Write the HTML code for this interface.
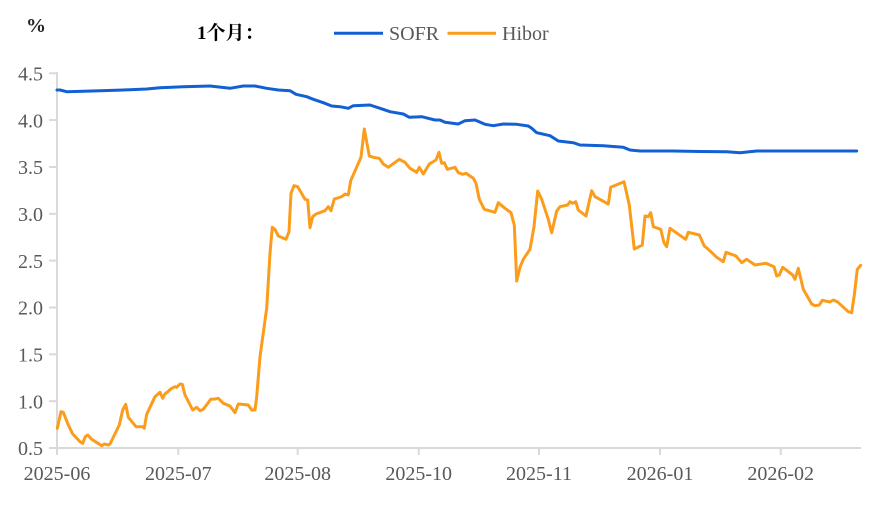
<!DOCTYPE html>
<html><head><meta charset="utf-8"><style>
html,body{margin:0;padding:0;background:#fff;}
svg{display:block;}
svg text{font-family:"Liberation Serif","Times New Roman","Noto Serif CJK SC",serif;fill:#595959;}
</style></head><body>
<svg width="889" height="506" viewBox="0 0 889 506" xmlns="http://www.w3.org/2000/svg">
<g stroke="#d9d9d9" stroke-width="2" fill="none">
<line x1="57" y1="72" x2="57" y2="449"/>
<line x1="56" y1="448" x2="861" y2="448"/>
<line x1="49" y1="73.3" x2="57" y2="73.3"/>
<line x1="49" y1="120.1" x2="57" y2="120.1"/>
<line x1="49" y1="167" x2="57" y2="167"/>
<line x1="49" y1="213.8" x2="57" y2="213.8"/>
<line x1="49" y1="260.6" x2="57" y2="260.6"/>
<line x1="49" y1="307.5" x2="57" y2="307.5"/>
<line x1="49" y1="354.3" x2="57" y2="354.3"/>
<line x1="49" y1="401.2" x2="57" y2="401.2"/>
<line x1="49" y1="448" x2="57" y2="448"/>
<line x1="57" y1="448" x2="57" y2="455"/>
<line x1="178.3" y1="448" x2="178.3" y2="455"/>
<line x1="297.7" y1="448" x2="297.7" y2="455"/>
<line x1="418.7" y1="448" x2="418.7" y2="455"/>
<line x1="539" y1="448" x2="539" y2="455"/>
<line x1="660" y1="448" x2="660" y2="455"/>
<line x1="780.7" y1="448" x2="780.7" y2="455"/>
</g>
<g font-size="20" text-anchor="end" font-family="Liberation Serif, serif" fill="#595959">
<text x="43" y="80.5">4.5</text>
<text x="43" y="127.3">4.0</text>
<text x="43" y="174.2">3.5</text>
<text x="43" y="221">3.0</text>
<text x="43" y="267.8">2.5</text>
<text x="43" y="314.7">2.0</text>
<text x="43" y="361.5">1.5</text>
<text x="43" y="408.4">1.0</text>
<text x="43" y="455.2">0.5</text>
</g>
<g font-size="20" text-anchor="middle" font-family="Liberation Serif, serif" fill="#595959">
<text x="57" y="480">2025-06</text>
<text x="178.3" y="480">2025-07</text>
<text x="297.7" y="480">2025-08</text>
<text x="418.7" y="480">2025-10</text>
<text x="539" y="480">2025-11</text>
<text x="660" y="480">2026-01</text>
<text x="780.7" y="480">2026-02</text>
</g>
<text x="26" y="32" font-size="20" font-weight="bold" font-family="Liberation Serif, serif" style="fill:#222;">%</text>
<text x="197" y="39" font-size="19" font-weight="bold" style="fill:#000;font-family:'Liberation Serif','Noto Serif CJK SC','Noto Sans CJK SC',serif;">1个月：</text>
<line x1="334" y1="33.3" x2="383" y2="33.3" stroke="#1260d3" stroke-width="3"/>
<text x="389" y="40" font-size="20" font-family="Liberation Serif, serif">SOFR</text>
<line x1="447.5" y1="33.3" x2="496" y2="33.3" stroke="#fb9c1b" stroke-width="3"/>
<text x="502" y="40" font-size="20" font-family="Liberation Serif, serif">Hibor</text>
<polyline fill="none" stroke="#1260d3" stroke-width="3" stroke-linejoin="round" stroke-linecap="round" points="
57,90 60,90 66.7,91.7 100,90.7 123.3,90 146.7,89 160,87.7 183.3,86.7 210,86 230,88.3 243.3,86 255,86 266.7,88.3 278.3,90 290,90.7 296,94.3 306.7,96.7 313.3,99.3 323.3,102.7 331.7,106 340,106.7 348.3,108.3 353.3,105.7 370,105 380,108.3 390,111.7 403.3,114 409.3,117.3 421.7,116.7 435,120 440,120 445,122.3 458.3,124 465,120.7 475,120 485,124.3 493.3,125.7 503.3,124 516.7,124.3 528.3,126 531.7,128.3 536.7,132.7 550,135.7 558.3,141 573.3,142.7 580,145 603.3,145.7 623.3,147.3 630,150 640,151 673.3,151 700,151.5 726.7,151.7 740,152.7 756.7,151 790,151 830,151 856.7,151"/>
<polyline fill="none" stroke="#fb9c1b" stroke-width="3" stroke-linejoin="round" stroke-linecap="round" points="
57.3,428.3 61,411.7 63.3,412.3 68.3,425 72.7,434 80,441.7 82.7,443.3 85.3,436.7 87.7,435 91.7,439.3 101.7,445.7 104.3,444 108.3,445 110,444 119.3,425 122.7,410 125.7,404.3 128.3,417.3 136,426.7 142.7,426.7 144.3,428.3 146.7,414.3 155,396.7 160,392.3 162.7,398.3 165,394 171.7,388.3 175,386.7 176.7,387.3 180,384 182.3,384.3 185,395 192.7,410 196.7,407.3 200,410.7 203.3,409.3 210.7,399.3 215,399 218.3,398.3 223.3,403.3 230,406 235,412.7 238.3,404 248.3,405 251.7,410 255,410 256.7,396.7 260,356.7 266.7,308.3 270,253.3 272.3,227.3 275,229.3 278.3,236 286,239.3 289,231.7 291,193.3 294,185.7 297.7,186.7 305,199.3 307.7,200 310,227.7 312.7,216.7 316,214 325,210.7 328.3,206.7 331,210.7 334.3,199 341.7,196.7 345,194 348.3,195 350.7,180.7 361,157.3 364.3,129 369.3,156 373.3,157.3 379.3,158.3 383.3,164 388.3,167.3 399.3,159.3 405,162.3 410,168.3 416.7,172.3 419.3,167.3 423.3,174 429.3,164 436,160 439,152.3 441.7,163.3 444.3,162.7 447.3,169.3 455,167.3 458.3,172.7 462.7,174.3 466,173.3 473.3,178.3 476,183.3 479.3,199.3 484.3,209.3 495,212.3 498.3,202.7 505,208.3 511,212.7 514.3,225 516.7,281 520,267.3 523.3,259.3 530,249.3 534,226.7 537.7,191 541.7,199.3 548.3,219.3 551.7,232.7 556.7,211 560,206.7 567.7,205 570,201.7 572.7,203.3 575.7,201.7 578.3,210 586,216 591.7,190.7 595,196.7 608.3,204 610.7,187.3 624,181.7 629.3,205 634.3,249 642.3,245 645,216 648.3,216.7 650.7,212.7 653.3,226.7 660.7,229.3 664,242.7 666.7,246.7 670,228.3 683.3,237.7 685.7,239.3 688.3,232.3 699.3,235 704.3,246 708.3,249.3 716.7,257.3 723.3,261.7 726,252.3 736,256 741.7,262.7 746.7,259.3 755,265 766,263.3 774,266.7 776.7,276 779.3,275 782.7,267.3 792.7,275 795,279.3 798.3,268.3 803.3,289.3 811.7,304 815,305.7 819.3,305 822.3,300.3 830,302 833.3,300 837.3,301.7 848.3,311.7 851.7,312.7 854.3,295 857.3,269.3 860.7,265.3"/>
</svg>
</body></html>
